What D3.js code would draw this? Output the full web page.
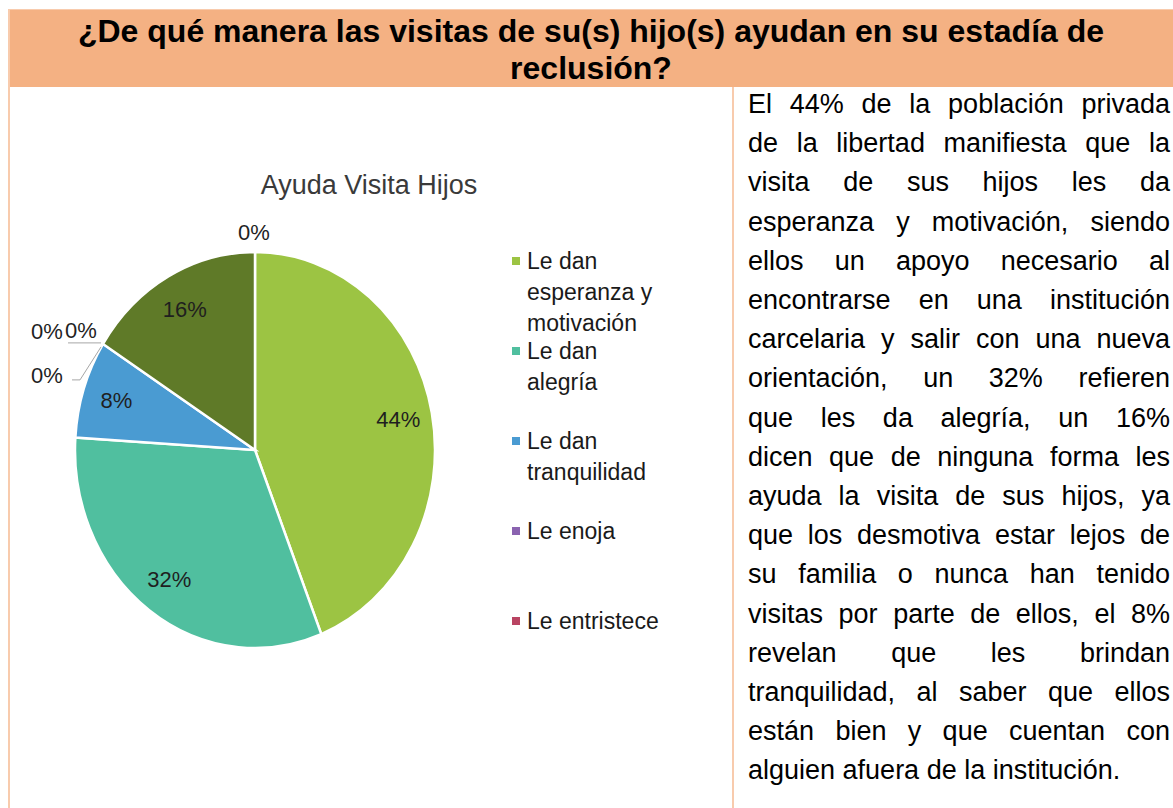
<!DOCTYPE html>
<html><head><meta charset="utf-8">
<script src="https://cdn.jsdelivr.net/npm/d3@7"></script>
<style>html,body{margin:0;padding:0;background:#fff;}svg{display:block;font-family:"Liberation Sans",Arial,sans-serif;}</style>
</head><body><svg id="c" width="1173" height="808"></svg>
<script>
// ---- data ----
const categories = ["Le dan esperanza y motivación","Le dan alegría","Le dan tranquilidad","Le enoja","Le entristece","Le es indiferente","No les ayuda","Otro"];
const values = [44,32,8,0,0,0,16,0];
const legendLines = [["Le dan","esperanza y","motivación"],["Le dan","alegría"],["Le dan","tranquilidad"],["Le enoja"],["Le entristece"]];
const sliceColors = ["#9CC443","#50BF9F","#4A9BD2","#8A63B0","#B94462","#F79646","#5F7A28","#2C4D75"];
const chartTitle = "Ayuda Visita Hijos";
const headerLines = ["¿De qué manera las visitas de su(s) hijo(s) ayudan en su estadía de","reclusión?"];
const paragraphLines = [
 "El 44% de la población privada",
 "de la libertad manifiesta que la",
 "visita de sus hijos les da",
 "esperanza y motivación, siendo",
 "ellos un apoyo necesario al",
 "encontrarse en una institución",
 "carcelaria y salir con una nueva",
 "orientación, un 32% refieren",
 "que les da alegría, un 16%",
 "dicen que de ninguna forma les",
 "ayuda la visita de sus hijos, ya",
 "que los desmotiva estar lejos de",
 "su familia o nunca han tenido",
 "visitas por parte de ellos,  el 8%",
 "revelan que les brindan",
 "tranquilidad, al saber que ellos",
 "están bien y que cuentan con",
 "alguien afuera de la institución."
];

// ---- layout ----
const svg = d3.select("#c");
const border = "#F8CBAD";

// header
svg.append("rect").attr("x",9).attr("y",9).attr("width",1164).attr("height",78).attr("fill","#F4B183");
svg.append("line").attr("x1",9).attr("x2",1173).attr("y1",9.5).attr("y2",9.5).attr("stroke",border).attr("stroke-width",1);
svg.append("line").attr("x1",9).attr("x2",9).attr("y1",9).attr("y2",808).attr("stroke",border).attr("stroke-width",2);
svg.append("line").attr("x1",733).attr("x2",733).attr("y1",87).attr("y2",808).attr("stroke",border).attr("stroke-width",2);

const hy = d3.scaleLinear().domain([0,1]).range([42,79]);
svg.append("g").selectAll("text").data(headerLines).join("text")
  .attr("x",591).attr("y",(d,i)=>hy(i)).attr("text-anchor","middle")
  .attr("font-size",32).attr("font-weight","bold").attr("fill","#000").text(d=>d);

// pie
const cx = 255, cy = 450, R = 180, ry = 198;
const sy = ry / R;
const pie = d3.pie().sort(null).value(d=>d).startAngle(0).endAngle(2*Math.PI);
const arcs = pie(values);
const arc = d3.arc().innerRadius(0).outerRadius(R);
const gPie = svg.append("g").attr("transform",`translate(${cx},${cy}) scale(1,${sy})`);
gPie.selectAll("path").data(arcs.filter(d=>d.value>0)).join("path")
  .attr("d",arc).attr("fill",d=>sliceColors[d.index])
  .attr("stroke","#fff").attr("stroke-width",2.5).attr("vector-effect","non-scaling-stroke");

svg.append("text").attr("x",369).attr("y",194).attr("text-anchor","middle")
  .attr("font-size",27).attr("fill","#3a3a3a").text(chartTitle);

const labelArc = d3.arc().innerRadius(R*0.81).outerRadius(R*0.81);
const gLab = svg.append("g").attr("font-size",22).attr("fill","#1f1f1f");
arcs.filter(d=>d.value>0).forEach(d=>{
  const [x,y] = labelArc.centroid(d);
  gLab.append("text").attr("x",cx+x).attr("y",cy+y*sy).attr("text-anchor","middle")
    .attr("dominant-baseline","central").text(d.value+"%");
});
// outside labels for zero slices (Excel best-fit placement)
const zeroLayout = {
  3:{dx:-56,dy:-12,leader:null},
  4:{dx:-22,dy:-13,leader:[[-35,-1],[-2,-1]]},
  5:{dx:-56,dy:32,leader:[[-31,36],[-23,36],[-2,3]]},
  7:{dx:-1,dy:-20,leader:null}
};
arcs.filter(d=>d.value===0).forEach(d=>{
  const a = d.startAngle;
  const ax = cx + R*Math.sin(a), ay = cy - ry*Math.cos(a);
  const L = zeroLayout[d.index];
  if (L.leader) {
    svg.append("path").attr("d",d3.line()(L.leader.map(p=>[ax+p[0],ay+p[1]])))
      .attr("fill","none").attr("stroke","#A6A6A6").attr("stroke-width",1);
  }
  gLab.append("text").attr("x",ax+L.dx).attr("y",ay+L.dy).attr("text-anchor","middle")
    .attr("dominant-baseline","central").text(d.value+"%");
});

// legend
const ly = d3.scalePoint().domain(d3.range(legendLines.length)).range([261,621]);
const gLeg = svg.append("g").attr("font-size",23).attr("fill","#1a1a1a");
legendLines.forEach((lines,i)=>{
  const y0 = ly(i);
  gLeg.append("rect").attr("x",512).attr("y",y0-4).attr("width",8).attr("height",8).attr("fill",sliceColors[i]);
  lines.forEach((t,k)=>{
    gLeg.append("text").attr("x",527).attr("y",y0+k*31).attr("dominant-baseline","central").text(t);
  });
});

// paragraph (justified)
const x0 = 748, x1 = 1170;
const py = d3.scaleLinear().domain([0,1]).range([113,152.2]);
const gPar = svg.append("g").attr("font-size",27).attr("fill","#000");
paragraphLines.forEach((line,i)=>{
  const t = gPar.append("text").attr("y",py(i));
  if (i === paragraphLines.length-1) { t.attr("x",x0).text(line); return; }
  const words = line.split(/\s+/);
  const widths = words.map(w=>{ const tmp = gPar.append("text").text(w); const wl = tmp.node().getComputedTextLength(); tmp.remove(); return wl; });
  const gap = (x1-x0-d3.sum(widths))/(words.length-1);
  let x = x0;
  words.forEach((w,j)=>{ t.append("tspan").attr("x",x).text(w); x += widths[j]+gap; });
});
</script></body></html>
